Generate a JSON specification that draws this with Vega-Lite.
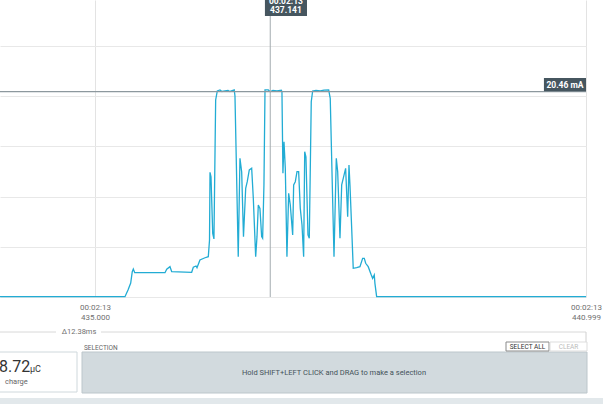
{
  "$schema": "https://vega.github.io/schema/vega-lite/v6.json",
  "width": 586,
  "height": 297,
  "autosize": {"type": "none"},
  "padding": {"left": 0, "top": 0, "right": 17, "bottom": 107},
  "background": "white",
  "config": {"view": {"stroke": null}, "font": "Roboto", "text": {"font": "Roboto"}},
  "datasets": {
    "trace": [
      {"t": 433.839, "i": 0.03}, {"t": 435.366, "i": 0.03}, {"t": 435.403, "i": 0.70}, {"t": 435.436, "i": 1.39},
      {"t": 435.455, "i": 2.52}, {"t": 435.468, "i": 2.79}, {"t": 435.485, "i": 2.42}, {"t": 435.855, "i": 2.42},
      {"t": 435.876, "i": 2.76}, {"t": 435.916, "i": 3.02}, {"t": 435.937, "i": 2.52}, {"t": 436.181, "i": 2.46},
      {"t": 436.201, "i": 2.96}, {"t": 436.234, "i": 3.09}, {"t": 436.246, "i": 2.92}, {"t": 436.282, "i": 3.69},
      {"t": 436.344, "i": 3.91}, {"t": 436.384, "i": 4.01}, {"t": 436.399, "i": 5.68}, {"t": 436.405, "i": 12.42},
      {"t": 436.417, "i": 11.98}, {"t": 436.438, "i": 6.34}, {"t": 436.453, "i": 5.78}, {"t": 436.474, "i": 19.62},
      {"t": 436.494, "i": 20.52}, {"t": 436.527, "i": 20.62}, {"t": 436.551, "i": 20.47}, {"t": 436.588, "i": 20.52},
      {"t": 436.625, "i": 20.57}, {"t": 436.649, "i": 20.47}, {"t": 436.701, "i": 20.62}, {"t": 436.710, "i": 20.02},
      {"t": 436.750, "i": 4.01}, {"t": 436.771, "i": 13.81}, {"t": 436.792, "i": 12.45}, {"t": 436.814, "i": 6.01},
      {"t": 436.841, "i": 10.83}, {"t": 436.860, "i": 11.48}, {"t": 436.885, "i": 12.65}, {"t": 436.914, "i": 12.82},
      {"t": 436.934, "i": 9.83}, {"t": 436.963, "i": 4.01}, {"t": 436.979, "i": 6.01}, {"t": 436.995, "i": 9.16},
      {"t": 437.015, "i": 8.83}, {"t": 437.036, "i": 6.01}, {"t": 437.048, "i": 5.85}, {"t": 437.064, "i": 11.16},
      {"t": 437.077, "i": 20.62}, {"t": 437.117, "i": 20.62}, {"t": 437.141, "i": 20.45}, {"t": 437.174, "i": 20.57},
      {"t": 437.223, "i": 20.52}, {"t": 437.276, "i": 20.59}, {"t": 437.284, "i": 20.45}, {"t": 437.296, "i": 12.32},
      {"t": 437.309, "i": 15.47}, {"t": 437.325, "i": 12.82}, {"t": 437.345, "i": 4.01}, {"t": 437.366, "i": 10.33},
      {"t": 437.386, "i": 9.16}, {"t": 437.415, "i": 6.18}, {"t": 437.427, "i": 11.16}, {"t": 437.447, "i": 11.48},
      {"t": 437.468, "i": 12.48}, {"t": 437.488, "i": 12.48}, {"t": 437.508, "i": 8.83}, {"t": 437.529, "i": 7.17},
      {"t": 437.549, "i": 4.01}, {"t": 437.562, "i": 14.47}, {"t": 437.577, "i": 13.97}, {"t": 437.602, "i": 6.18},
      {"t": 437.618, "i": 5.85}, {"t": 437.642, "i": 19.45}, {"t": 437.659, "i": 20.52}, {"t": 437.700, "i": 20.57},
      {"t": 437.752, "i": 20.52}, {"t": 437.797, "i": 20.60}, {"t": 437.855, "i": 20.62}, {"t": 437.874, "i": 19.79},
      {"t": 437.920, "i": 4.01}, {"t": 437.948, "i": 13.81}, {"t": 437.965, "i": 12.48}, {"t": 437.993, "i": 5.85},
      {"t": 438.014, "i": 11.16}, {"t": 438.033, "i": 11.82}, {"t": 438.062, "i": 12.82}, {"t": 438.087, "i": 8.00},
      {"t": 438.103, "i": 13.15}, {"t": 438.115, "i": 11.16}, {"t": 438.136, "i": 6.84}, {"t": 438.155, "i": 2.86},
      {"t": 438.197, "i": 2.92}, {"t": 438.237, "i": 3.02}, {"t": 438.270, "i": 3.85}, {"t": 438.290, "i": 3.85},
      {"t": 438.307, "i": 3.36}, {"t": 438.338, "i": 3.02}, {"t": 438.372, "i": 2.26}, {"t": 438.392, "i": 1.86},
      {"t": 438.412, "i": 2.19}, {"t": 438.420, "i": 1.36}, {"t": 438.441, "i": 0.03}, {"t": 440.999, "i": 0.03}
    ]
  },
  "layer": [
    {
      "layer": [
        {
          "data": {"name": "trace"},
          "mark": {"type": "line", "color": "#22acd4", "strokeWidth": 1.3, "clip": false},
          "encoding": {
            "x": {
              "field": "t", "type": "quantitative",
              "scale": {"domain": [433.839, 440.999], "nice": false, "zero": false},
              "axis": {
                "values": [435, 440.999], "title": null, "ticks": false, "domain": false,
                "grid": true, "gridColor": "#e3e3e3", "gridWidth": 1,
                "labelExpr": "['00:02:13', format(datum.value, '.3f')]",
                "labelFontSize": 8, "labelColor": "#707070", "labelLineHeight": 10,
                "labelPadding": 6, "labelBound": false, "labelFlush": false, "labelOverlap": false,
                "labelFont": "Roboto"
              }
            },
            "y": {
              "field": "i", "type": "quantitative",
              "scale": {"domain": [0, 29.58], "nice": false, "zero": true},
              "axis": {
                "values": [0, 5, 10, 15, 20, 25], "title": null, "labels": false, "ticks": false,
                "domain": false, "grid": true, "gridColor": "#e8e8e8", "gridWidth": 1
              }
            }
          }
        },
        {
          "data": {"values": [{}]},
          "mark": {"type": "rule", "color": "#8d989e", "strokeWidth": 1.3},
          "encoding": {"y": {"datum": 20.46, "type": "quantitative"}}
        },
        {
          "data": {"values": [{}]},
          "mark": {"type": "rule", "color": "#a3abb0", "strokeWidth": 1},
          "encoding": {"x": {"datum": 437.141, "type": "quantitative"}}
        },
        {
          "data": {"values": [{}]},
          "mark": {"type": "rect", "color": "#46565f", "clip": false},
          "encoding": {
            "x": {"datum": 437.076, "type": "quantitative"}, "x2": {"datum": 437.59},
            "y": {"datum": 31.5, "type": "quantitative"}, "y2": {"datum": 27.98}
          }
        },
        {
          "data": {"values": [{}]},
          "mark": {"type": "text", "text": "00:02:13", "color": "white", "fontSize": 8.5, "fontWeight": "bold", "align": "center", "baseline": "middle", "clip": false},
          "encoding": {"x": {"datum": 437.333, "type": "quantitative"}, "y": {"datum": 29.49, "type": "quantitative"}}
        },
        {
          "data": {"values": [{}]},
          "mark": {"type": "text", "text": "437.141", "color": "white", "fontSize": 8.5, "fontWeight": "bold", "align": "center", "baseline": "middle", "clip": false},
          "encoding": {"x": {"datum": 437.333, "type": "quantitative"}, "y": {"datum": 28.55, "type": "quantitative"}}
        },
        {
          "data": {"values": [{}]},
          "mark": {"type": "rect", "color": "#46565f", "clip": false},
          "encoding": {
            "x": {"datum": 440.485, "type": "quantitative"}, "x2": {"datum": 440.999},
            "y": {"datum": 20.5, "type": "quantitative"}, "y2": {"datum": 21.81}
          }
        },
        {
          "data": {"values": [{}]},
          "mark": {"type": "text", "text": "20.46 mA", "color": "white", "fontSize": 8.5, "fontWeight": "bold", "align": "center", "baseline": "middle", "clip": false},
          "encoding": {"x": {"datum": 440.742, "type": "quantitative"}, "y": {"datum": 21.16, "type": "quantitative"}}
        }
      ]
    },
    {
      "data": {"values": [{}]},
      "layer": [
        {
          "mark": {"type": "rule", "color": "#d8d8d8", "strokeWidth": 1, "clip": false},
          "encoding": {
            "x": {"datum": 0, "type": "quantitative", "scale": {"domain": [0, 586], "nice": false, "zero": false}, "axis": null},
            "x2": {"datum": 56},
            "y": {"datum": 332, "type": "quantitative", "scale": {"domain": [0, 297], "nice": false, "zero": false, "reverse": true}, "axis": null}
          }
        },
        {
          "mark": {"type": "rule", "color": "#d8d8d8", "strokeWidth": 1, "clip": false},
          "encoding": {
            "x": {"datum": 101, "type": "quantitative"}, "x2": {"datum": 586},
            "y": {"datum": 332, "type": "quantitative"}
          }
        },
        {
          "mark": {"type": "rule", "color": "#d0d0d0", "strokeWidth": 1, "clip": false},
          "encoding": {
            "x": {"datum": 586, "type": "quantitative"},
            "y": {"datum": 332, "type": "quantitative"}, "y2": {"datum": 349}
          }
        },
        {
          "mark": {"type": "text", "text": "Δ12.38ms", "color": "#707070", "fontSize": 7.5, "align": "center", "baseline": "middle", "clip": false},
          "encoding": {"x": {"datum": 79, "type": "quantitative"}, "y": {"datum": 332, "type": "quantitative"}}
        },
        {
          "mark": {"type": "rect", "fill": "white", "stroke": "#cfd8dc", "strokeWidth": 1, "clip": false},
          "encoding": {
            "x": {"datum": -10, "type": "quantitative"}, "x2": {"datum": 77},
            "y": {"datum": 352, "type": "quantitative"}, "y2": {"datum": 392}
          }
        },
        {
          "mark": {"type": "text", "text": "8.72", "color": "#333333", "fontSize": 16, "align": "left", "baseline": "alphabetic", "clip": false},
          "encoding": {"x": {"datum": -1, "type": "quantitative"}, "y": {"datum": 372, "type": "quantitative"}}
        },
        {
          "mark": {"type": "text", "text": "µC", "color": "#333333", "fontSize": 9, "align": "left", "baseline": "alphabetic", "clip": false},
          "encoding": {"x": {"datum": 30, "type": "quantitative"}, "y": {"datum": 372, "type": "quantitative"}}
        },
        {
          "mark": {"type": "text", "text": "charge", "color": "#666666", "fontSize": 7.5, "align": "left", "baseline": "middle", "clip": false},
          "encoding": {"x": {"datum": 5, "type": "quantitative"}, "y": {"datum": 382, "type": "quantitative"}}
        },
        {
          "mark": {"type": "text", "text": "SELECTION", "color": "#666666", "fontSize": 6.5, "align": "left", "baseline": "middle", "clip": false},
          "encoding": {"x": {"datum": 84, "type": "quantitative"}, "y": {"datum": 347.5, "type": "quantitative"}}
        },
        {
          "mark": {"type": "rect", "fill": "#d2dade", "stroke": "#bcc6cb", "strokeWidth": 1, "clip": false},
          "encoding": {
            "x": {"datum": 82, "type": "quantitative"}, "x2": {"datum": 587},
            "y": {"datum": 352, "type": "quantitative"}, "y2": {"datum": 393}
          }
        },
        {
          "mark": {"type": "text", "text": "Hold SHIFT+LEFT CLICK and DRAG to make a selection", "color": "#44525a", "fontSize": 7.5, "align": "center", "baseline": "middle", "clip": false},
          "encoding": {"x": {"datum": 334, "type": "quantitative"}, "y": {"datum": 372.5, "type": "quantitative"}}
        },
        {
          "mark": {"type": "rect", "fill": "white", "stroke": "#8a8a8a", "strokeWidth": 1, "clip": false},
          "encoding": {
            "x": {"datum": 506, "type": "quantitative"}, "x2": {"datum": 549},
            "y": {"datum": 342, "type": "quantitative"}, "y2": {"datum": 351}
          }
        },
        {
          "mark": {"type": "text", "text": "SELECT ALL", "color": "#333333", "fontSize": 6.5, "align": "center", "baseline": "middle", "clip": false},
          "encoding": {"x": {"datum": 527.5, "type": "quantitative"}, "y": {"datum": 346.7, "type": "quantitative"}}
        },
        {
          "mark": {"type": "rect", "fill": "white", "stroke": "#dddddd", "strokeWidth": 1, "clip": false},
          "encoding": {
            "x": {"datum": 550, "type": "quantitative"}, "x2": {"datum": 587},
            "y": {"datum": 342, "type": "quantitative"}, "y2": {"datum": 351}
          }
        },
        {
          "mark": {"type": "text", "text": "CLEAR", "color": "#bbbbbb", "fontSize": 6.5, "align": "center", "baseline": "middle", "clip": false},
          "encoding": {"x": {"datum": 568.5, "type": "quantitative"}, "y": {"datum": 346.7, "type": "quantitative"}}
        },
        {
          "mark": {"type": "rect", "fill": "#e2e8eb", "clip": false},
          "encoding": {
            "x": {"datum": 0, "type": "quantitative"}, "x2": {"datum": 603},
            "y": {"datum": 398, "type": "quantitative"}, "y2": {"datum": 404}
          }
        }
      ]
    }
  ],
  "resolve": {"scale": {"x": "independent", "y": "independent"}, "axis": {"x": "independent", "y": "independent"}}
}
